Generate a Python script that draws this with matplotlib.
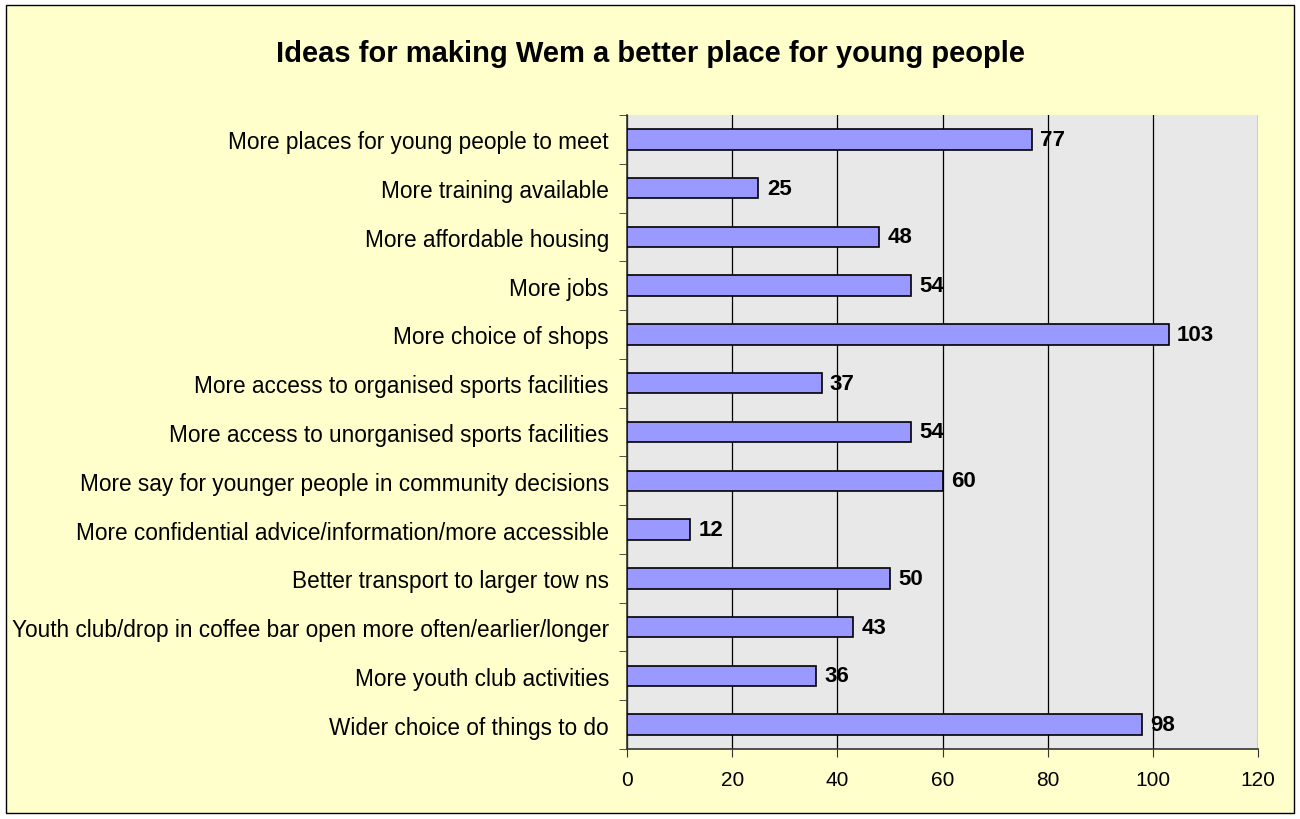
import numpy as np
import matplotlib.pyplot as plt
from matplotlib.patches import Rectangle

categories = [
    "More places for young people to meet",
    "More training available",
    "More affordable housing",
    "More jobs",
    "More choice of shops",
    "More access to organised sports facilities",
    "More access to unorganised sports facilities",
    "More say for younger people in community decisions",
    "More confidential advice/information/more accessible",
    "Better transport to larger tow ns",
    "Youth club/drop in coffee bar open more often/earlier/longer",
    "More youth club activities",
    "Wider choice of things to do",
]
values = [77, 25, 48, 54, 103, 37, 54, 60, 12, 50, 43, 36, 98]
xticks = [0, 20, 40, 60, 80, 100, 120]

plt.rcParams['font.family'] = ['Liberation Sans', 'DejaVu Sans']

fig = plt.figure(figsize=(13, 8.2), dpi=100, facecolor='white')
# yellow chart area with black border
fig.patches.append(Rectangle((6/1300, 6/820), 1288/1300, 808/820, transform=fig.transFigure,
                             facecolor='#FFFFCC', edgecolor='black', linewidth=1, zorder=-10))

ax = fig.add_axes([627/1300, 70/820, 631/1300, 634/820])
ax.set_facecolor('#E8E8E8')

y = np.arange(len(categories))
ax.barh(y, values, height=0.42, color='#9999FF', edgecolor='black', linewidth=1.2, zorder=3)
for yi, v in zip(y, values):
    ax.annotate(str(v), (v, yi), xytext=(6, 0), textcoords='offset points',
                va='center', ha='left', fontsize=16, fontweight='bold', zorder=4)

ax.set_xlim(0, 120)
ax.set_ylim(len(categories) - 0.5, -0.5)
ax.set_xticks(xticks)
ax.set_xticklabels([str(t) for t in xticks], fontsize=15)
ax.set_yticks(y)
ax.set_yticklabels(categories, fontsize=16.3)
ax.tick_params(axis='y', length=0, pad=13)
# tick marks sit between the categories
ax.set_yticks(np.arange(-0.5, len(categories), 1), minor=True)
ax.tick_params(axis='y', which='minor', length=6, color='#333333')
ax.tick_params(axis='x', length=6, color='#333333', pad=9)
ax.xaxis.grid(True, color='black', linewidth=0.9, zorder=1)
ax.set_axisbelow(True)
for s in ['top', 'right']:
    ax.spines[s].set_visible(False)
for s in ['left', 'bottom']:
    ax.spines[s].set_color('#333333')
    ax.spines[s].set_linewidth(1.2)

fig.text(651/1300, 1 - 54/820, "Ideas for making Wem a better place for young people",
         ha='center', va='center', fontsize=21, fontweight='bold')

fig.savefig('out.png', dpi=100, facecolor=fig.get_facecolor())
